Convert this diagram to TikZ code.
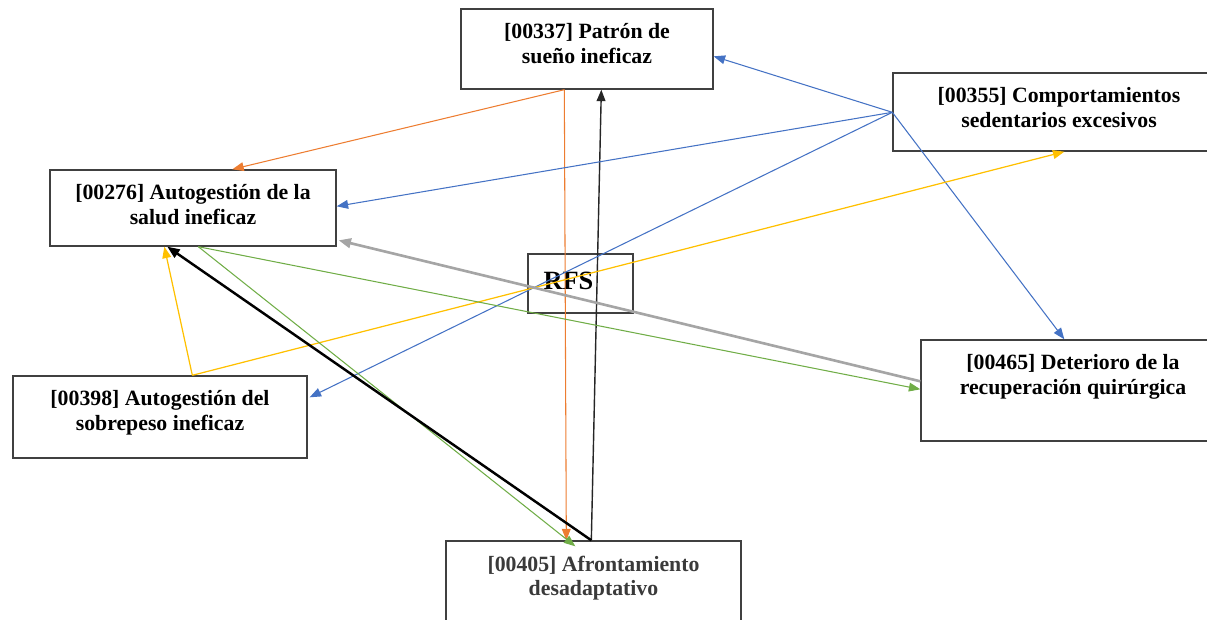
\documentclass[tikz,border=0pt]{standalone}
\usepackage{fontspec}
\setmainfont{Liberation Serif}
\usetikzlibrary{arrows.meta,calc}
\definecolor{cOr}{HTML}{ED7D31}
\definecolor{cBl}{HTML}{4472C4}
\definecolor{cYe}{HTML}{FFC000}
\definecolor{cGr}{HTML}{70AD47}
\definecolor{cGy}{HTML}{A5A5A5}
\definecolor{cBox}{HTML}{404040}
\definecolor{cTxtG}{HTML}{3A3A3A}
\begin{document}
\begin{tikzpicture}[x=0.02cm,y=-0.02cm,
  boxn/.style={draw=cBox,line width=0.8pt,fill=white,rectangle,inner sep=0pt},
  lbl/.style={inner sep=0pt,align=center,font=\fontsize{12.4pt}{14.2pt}\selectfont\bfseries,anchor=north},
  tip/.style={-{Triangle[length=6.5pt,width=5pt]}},
  eOr/.style={tip,draw=cOr,line width=0.6pt},
  eBl/.style={tip,draw=cBl,line width=0.6pt},
  eYe/.style={tip,draw=cYe,line width=0.7pt},
  eGr/.style={tip,draw=cGr,line width=0.6pt},
  eGy/.style={-{Triangle[length=7pt,width=5.5pt]},draw=cGy,line width=1.5pt},
  eBkThick/.style={-{Triangle[length=7pt,width=5.5pt]},draw=black,line width=1.4pt},
  eBkThin/.style={tip,draw=black!85,line width=0.8pt}]
\useasboundingbox (0,0) rectangle (1207,619);
\clip (0,0) rectangle (1207,619);

% boxes
\node[boxn,minimum width=5.04cm,minimum height=1.6cm] (P337) at (587,49) {};
\node[boxn,minimum width=6.64cm,minimum height=1.56cm] (C355) at (1059,112) {};
\node[boxn,minimum width=5.72cm,minimum height=1.52cm] (A276) at (193,208) {};
\node[boxn,minimum width=5.88cm,minimum height=1.64cm] (A398) at (160,417) {};
\node[boxn,minimum width=6.08cm,minimum height=2.02cm] (E465) at (1073,390.5) {};
\node[boxn,minimum width=5.9cm,minimum height=1.78cm] (F405) at (593.5,585.5) {};
\node[draw=cBox,line width=0.8pt,rectangle,inner sep=0pt,minimum width=2.1cm,minimum height=1.18cm] (RFS) at (580.5,283.5) {};

% texts
\node[lbl] (P337t) at ($(P337.north)+(0,15)$) {[00337] Patrón de\\sueño ineficaz};
\node[lbl] (C355t) at ($(C355.north)+(0,15)$) {[00355] Comportamientos\\sedentarios excesivos};
\node[lbl] (A276t) at ($(A276.north)+(0,15)$) {[00276] Autogestión de la\\salud ineficaz};
\node[lbl] (A398t) at ($(A398.north)+(0,15)$) {[00398] Autogestión del\\sobrepeso ineficaz};
\node[lbl] (E465t) at ($(E465.north)+(0,15)$) {[00465] Deterioro de la\\recuperación quirúrgica};
\node[lbl,text=cTxtG] (F405t) at ($(F405.north)+(0,15)$) {[00405] Afrontamiento\\desadaptativo};
\node[inner sep=0pt,anchor=base,font=\fontsize{15pt}{18pt}\selectfont\bfseries] (RFSt) at ($(RFS.center)+(-12,6)$) {RFS};

% orange
\draw[eOr] ($(P337.south west)+(104,0)$) -- ($(A276.north west)+(183,0)$);
\draw[eOr] ($(P337.south west)+(104,0)$) -- ($(F405.north west)+(121,0)$);
% black thin
\draw[eBkThin] ($(F405.north west)+(146,0)$) -- ($(P337.south west)+(141,0)$);
% blue
\draw[eBl] ($(C355.north west)+(0,40)$) -- ($(P337.north east)+(0,48)$);
\draw[eBl] ($(C355.north west)+(0,40)$) -- ($(A276.north east)+(0,37)$);
\draw[eBl] ($(C355.north west)+(0,40)$) -- ($(A398.north east)+(2,22)$);
\draw[eBl] ($(C355.north west)+(0,40)$) -- ($(E465.north west)+(144,0)$);
% yellow
\draw[eYe] ($(A398.north west)+(180,0)$) -- ($(A276.south west)+(115,0)$);
\draw[eYe] ($(A398.north west)+(180,0)$) -- ($(C355.south west)+(172,0)$);
% green
\draw[eGr] ($(A276.south west)+(149,0)$) -- ($(E465.north west)+(0,50)$);
\draw[eGr] ($(A276.south west)+(149,0)$) -- ($(F405.north west)+(130,6)$);
% gray
\draw[eGy] ($(E465.north west)+(0,42)$) -- ($(A276.north east)+(2,71)$);
% black thick
\draw[eBkThick] ($(F405.north west)+(146,0)$) -- ($(A276.south west)+(118,0)$);
\end{tikzpicture}
\end{document}
